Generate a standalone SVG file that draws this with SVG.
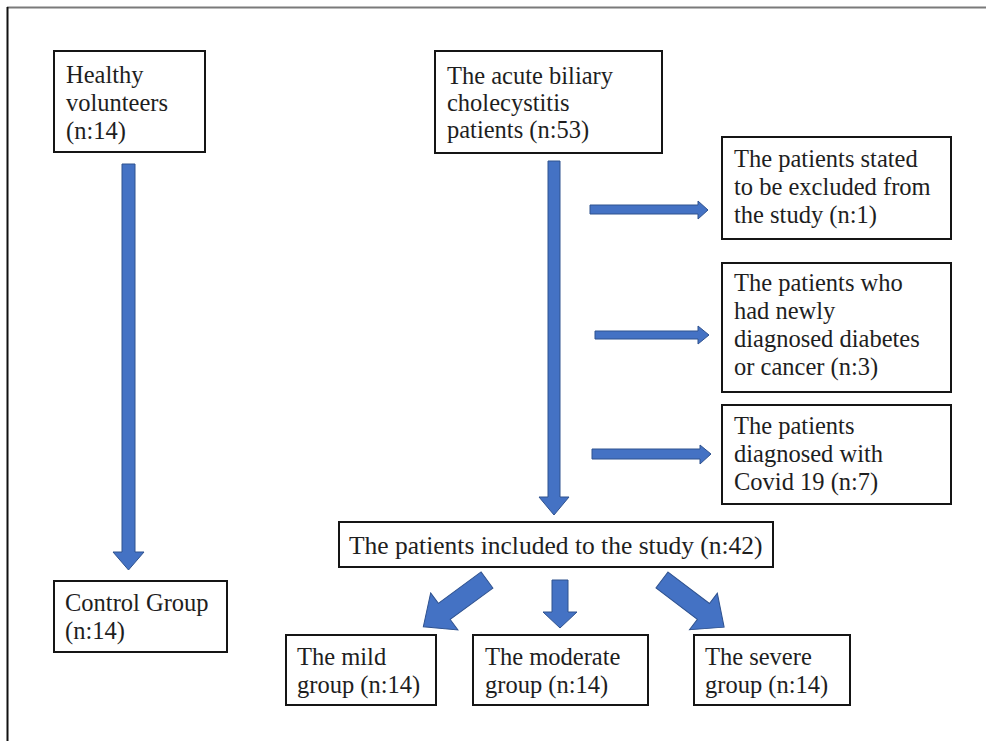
<svg xmlns="http://www.w3.org/2000/svg" width="986" height="741" viewBox="0 0 986 741">
<defs>
<style>
.box{fill:#fff;stroke:#151515;stroke-width:2}
.arr{fill:#4472c4;stroke:#2f528f;stroke-width:1}
.t{font-family:"Liberation Serif","Times New Roman",serif;font-size:24.5px;fill:#1e1e1e}
</style>
</defs>
<rect width="986" height="741" fill="#fff"/>
<line x1="7" y1="7.5" x2="986" y2="7.5" stroke="#7a7a7a" stroke-width="2"/>
<line x1="7.5" y1="7" x2="7.5" y2="741" stroke="#111" stroke-width="2"/>

<g id="connectors">
<path class="arr" d="M122,164 H135 V552 H144 L128.5,570 L113,552 H122 Z"/>
<path class="arr" d="M548,161 H560 V497 H569 L554,515 L539,497 H548 Z"/>
<path class="arr" d="M590,205 H698 V201 L708,210 L698,219 V214 H590 Z"/>
<path class="arr" d="M595,331 H698 V326 L709,335 L698,344 V339 H595 Z"/>
<path class="arr" d="M592,449 H700 V445 L711,454 L700,464 V459 H592 Z"/>
<path class="arr" d="M552,580 H568 V612 H577 L560,628 L543,612 H552 Z"/>
<path class="arr" transform="translate(487,580) rotate(143.7)" d="M0,-10 H53 V-23 L79,0 L53,23 V10 H0 Z"/>
<path class="arr" transform="translate(662,580) rotate(37.2)" d="M0,-10 H52 V-23 L78,0 L52,23 V10 H0 Z"/>
</g>

<g id="healthy">
<rect class="box" x="54" y="51" width="151" height="101"/>
<text class="t" x="66" y="83">Healthy</text>
<text class="t" x="66" y="111">volunteers</text>
<text class="t" x="66" y="139">(n:14)</text>
</g>
<g id="acute">
<rect class="box" x="435" y="51" width="227" height="102"/>
<text class="t" x="447" y="84">The acute biliary</text>
<text class="t" x="447" y="111">cholecystitis</text>
<text class="t" x="447" y="138">patients (n:53)</text>
</g>
<g id="excluded">
<rect class="box" x="722" y="137" width="229" height="102"/>
<text class="t" x="734" y="167">The patients stated</text>
<text class="t" x="734" y="195">to be excluded from</text>
<text class="t" x="734" y="223">the study (n:1)</text>
</g>
<g id="newly">
<rect class="box" x="722" y="263" width="229" height="129"/>
<text class="t" x="734" y="291">The patients who</text>
<text class="t" x="734" y="319">had newly</text>
<text class="t" x="734" y="347">diagnosed diabetes</text>
<text class="t" x="734" y="375">or cancer (n:3)</text>
</g>
<g id="covid">
<rect class="box" x="722" y="405" width="229" height="99"/>
<text class="t" x="734" y="434">The patients</text>
<text class="t" x="734" y="462">diagnosed with</text>
<text class="t" x="734" y="490">Covid 19 (n:7)</text>
</g>
<g id="included">
<rect class="box" x="339" y="522" width="434" height="45"/>
<text class="t" x="349" y="554" style="font-size:25.5px">The patients included to the study (n:42)</text>
</g>
<g id="control">
<rect class="box" x="54" y="581" width="173" height="71"/>
<text class="t" x="65" y="611">Control Group</text>
<text class="t" x="65" y="639">(n:14)</text>
</g>
<g id="mild">
<rect class="box" x="286" y="635" width="150" height="70"/>
<text class="t" x="297" y="665">The mild</text>
<text class="t" x="297" y="693">group (n:14)</text>
</g>
<g id="moderate">
<rect class="box" x="473" y="635" width="175" height="70"/>
<text class="t" x="485" y="665">The moderate</text>
<text class="t" x="485" y="693">group (n:14)</text>
</g>
<g id="severe">
<rect class="box" x="694" y="635" width="156" height="70"/>
<text class="t" x="705" y="665">The severe</text>
<text class="t" x="705" y="693">group (n:14)</text>
</g>
</svg>
